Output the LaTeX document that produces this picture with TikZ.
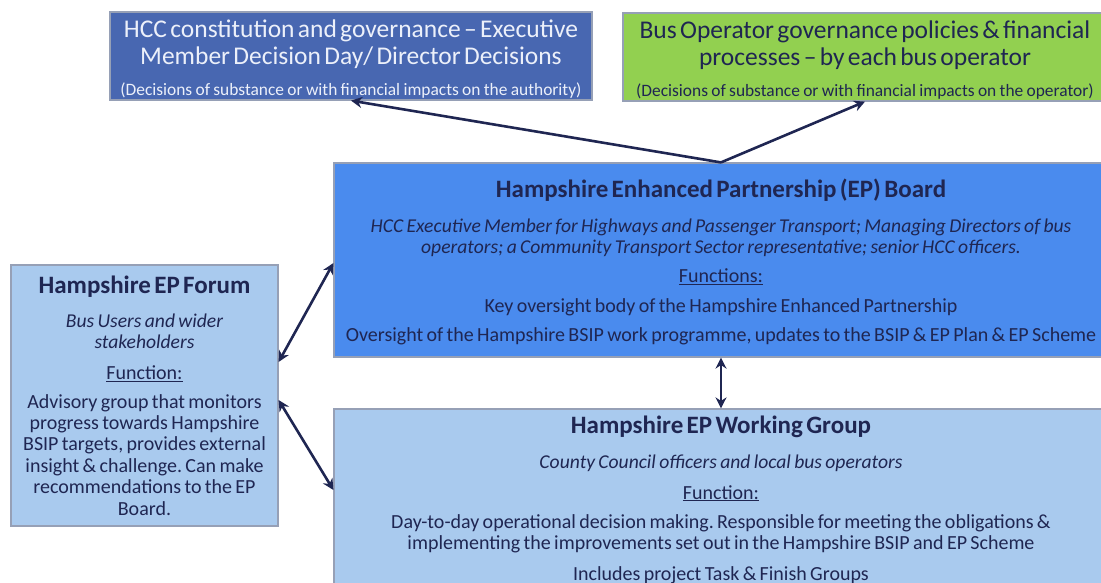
\documentclass[tikz,border=0pt]{standalone}
\usepackage{fontspec}
\setmainfont{Carlito}
\usepackage{xcolor}
\usepackage{tikz}
\usetikzlibrary{arrows.meta,positioning}
\frenchspacing
\definecolor{hccblue}{RGB}{72,103,177}
\definecolor{hcctext}{RGB}{236,240,250}
\definecolor{opgreen}{RGB}{146,208,80}
\definecolor{boardblue}{RGB}{74,139,238}
\definecolor{paleblue}{RGB}{169,202,238}
\definecolor{inkblue}{RGB}{31,38,82}
\definecolor{edgegrey}{RGB}{150,160,182}
\tikzstyle{box} = [draw=edgegrey, line width=1.2pt, align=center, inner sep=0pt, text=inkblue]
\tikzstyle{arrow} = [inkblue, line width=2.6pt, -{Stealth[length=11pt,width=11pt]}]
\tikzstyle{dblarrow} = [arrow, {Stealth[length=11pt,width=11pt]}-{Stealth[length=11pt,width=11pt]}]
\newcommand{\headfont}{\fontsize{25.5}{27}\selectfont}
\newcommand{\notefont}{\fontsize{17.4}{20}\selectfont}
\newcommand{\titlefont}{\bfseries\fontsize{25}{27}\selectfont}
\newcommand{\bodyfont}[1]{\fontsize{20}{#1}\selectfont}
\newcommand{\slantfont}{\itshape\fontsize{19.6}{21}\selectfont}

\begin{document}
\begin{tikzpicture}[x=1pt,y=-1pt]
\useasboundingbox (0,0) rectangle (1101,582);
\clip (0,0) rectangle (1101,582);

% decision routes at the top
\node[box, fill=hccblue, text=hcctext, text width=482pt, minimum height=88pt] (hcc) at (351,56)
 {{\headfont HCC constitution and governance -- Executive\\ Member Decision Day/ Director Decisions\par}
  \vspace{11pt}{\notefont (Decisions of substance or with financial impacts on the authority)\par}\vspace{-6pt}};
\node[box, fill=opgreen, text width=484pt, minimum height=88pt] (bus) at (865,57)
 {{\headfont Bus Operator governance policies \& financial\\ processes -- by each bus operator\par}
  \vspace{11pt}{\notefont (Decisions of substance or with financial impacts on the operator)\par}\vspace{-6pt}};

% EP board
\node[box, fill=boardblue, text width=774pt, minimum height=194pt] (board) at (721,260)
 {{\titlefont Hampshire Enhanced Partnership (EP) Board\par}
  \vspace{14pt}{\slantfont HCC Executive Member for Highways and Passenger Transport; Managing Directors of bus\\ operators; a Community Transport Sector representative; senior HCC officers.\par}
  {\bodyfont{29.5} \underline{Functions:}\\ Key oversight body of the Hampshire Enhanced Partnership\\ Oversight of the Hampshire BSIP work programme, updates to the BSIP \& EP Plan \& EP Scheme\par}\vspace{-4pt}};

% EP forum
\node[box, fill=paleblue, text width=267pt, minimum height=261pt] (forum) at (144.5,395.5)
 {{\titlefont Hampshire EP Forum\par}
  \vspace{13pt}{\slantfont Bus Users and wider\\ stakeholders\par}
  \vspace{9.6pt}{\bodyfont{21.4} \underline{Function:}\par}
  \vspace{7.6pt}{\bodyfont{21.4} Advisory group that monitors\\ progress towards Hampshire\\ BSIP targets, provides external\\ insight \& challenge. Can make\\ recommendations to the EP\\ Board.\par}};

% EP working group
\node[box, fill=paleblue, text width=774pt, minimum height=181pt] (wg) at (721,499.5)
 {{\titlefont Hampshire EP Working Group\par}
  \vspace{14pt}{\slantfont County Council officers and local bus operators\par}
  \vspace{10pt}{\bodyfont{21} \underline{Function:}\par}
  \vspace{8pt}{\bodyfont{21} Day-to-day operational decision making. Responsible for meeting the obligations \&\\ implementing the improvements set out in the Hampshire BSIP and EP Scheme\par}
  \vspace{10pt}{\bodyfont{21} Includes project Task \& Finish Groups\par}};

% connectors
\draw[arrow] (board.north) -- (hcc.south);
\draw[arrow] (board.north) -- (bus.south);
\draw[dblarrow] ([yshift=33.5pt]forum.east) -- ([yshift=-3pt]board.west);
\draw[dblarrow] ([yshift=-4.5pt]forum.east) -- ([yshift=9.5pt]wg.west);
\draw[dblarrow] (board.south) -- (wg.north);
\end{tikzpicture}
\end{document}
